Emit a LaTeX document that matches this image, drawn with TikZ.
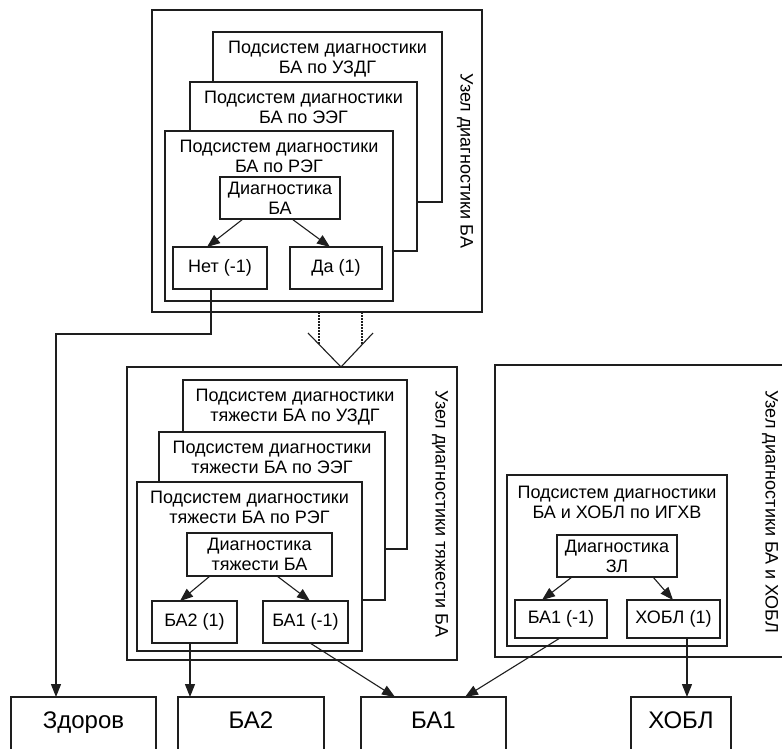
\documentclass[tikz,border=0pt]{standalone}
\usepackage{fontspec}
\setmainfont{Liberation Sans}
\usetikzlibrary{arrows.meta}
\definecolor{linec}{RGB}{30,30,30}
\begin{document}
\begin{tikzpicture}[x=1pt,y=-1pt,
  box/.style={draw=linec, line width=1.1pt, fill=white, inner sep=0pt, outer sep=0pt},
  txt/.style={font=\fontsize{18}{20}\selectfont, align=center, inner sep=0pt},
  big/.style={font=\fontsize{24}{28}\selectfont, inner sep=0pt},
  arr/.style={draw=linec, line width=1.1pt, -{Triangle[length=13pt,width=10pt]}},
  conn/.style={draw=linec, line width=1.1pt},
  dsh/.style={draw=linec, line width=1.1pt, dash pattern=on 2pt off 1pt},
  vlab/.style={font=\fontsize{18}{20}\selectfont, rotate=-90, inner sep=0pt}]
\fill[white] (0,0) rectangle (782,748);
\clip (0,0) rectangle (782,748);

% ---------- upper node ----------
\node[box, minimum width=330, minimum height=302] (upOuter) at (317,161) {};
\node[box, minimum width=229, minimum height=170] (upC3) at (327.5,117) {};
\node[txt, anchor=north] (upC3t) at ([yshift=-9pt]upC3.north) {Подсистем диагностики\\БА по УЗДГ};
\node[box, minimum width=227, minimum height=169] (upC2) at (303.5,166.5) {};
\node[txt, anchor=north] (upC2t) at ([yshift=-9pt]upC2.north) {Подсистем диагностики\\БА по ЭЭГ};
\node[box, minimum width=228, minimum height=170] (upC1) at (279,216) {};
\node[txt, anchor=north] (upC1t) at ([yshift=-9pt]upC1.north) {Подсистем диагностики\\БА по РЭГ};
\node[box, txt, minimum width=120, minimum height=42] (upDiag) at (280,198) {Диагностика\\БА};
\node[box, txt, minimum width=94, minimum height=42] (upNo) at (220,268) {Нет (-1)};
\node[box, txt, minimum width=92, minimum height=42] (upYes) at (336,268) {Да (1)};
\node[vlab] (upLab) at (465,161) {Узел диагностики БА};
\draw[arr] ([xshift=-37pt]upDiag.south) -- ([xshift=-13pt]upNo.north);
\draw[arr] ([xshift=12pt]upDiag.south) -- ([xshift=-6pt]upYes.north);

% ---------- middle node ----------
\node[box, minimum width=330, minimum height=293] (midOuter) at (292,513.5) {};
\node[box, minimum width=224, minimum height=169] (midC3) at (295,464.5) {};
\node[txt, anchor=north] (midC3t) at ([yshift=-9pt]midC3.north) {Подсистем диагностики\\тяжести БА по УЗДГ};
\node[box, minimum width=226, minimum height=168] (midC2) at (272,516) {};
\node[txt, anchor=north] (midC2t) at ([yshift=-9pt]midC2.north) {Подсистем диагностики\\тяжести БА по ЭЭГ};
\node[box, minimum width=225, minimum height=169] (midC1) at (249.5,566.5) {};
\node[txt, anchor=north] (midC1t) at ([yshift=-9pt]midC1.north) {Подсистем диагностики\\тяжести БА по РЭГ};
\node[box, txt, minimum width=145, minimum height=43] (midDiag) at (259.5,554.5) {Диагностика\\тяжести БА};
\node[box, txt, minimum width=85, minimum height=42] (midBA2) at (194.5,622) {БА2 (1)};
\node[box, txt, minimum width=85, minimum height=42] (midBA1) at (305.5,622) {БА1 (-1)};
\node[vlab] (midLab) at (440,514) {Узел диагностики тяжести БА};
\draw[arr] ([xshift=-49.5pt]midDiag.south) -- ([xshift=-14.5pt]midBA2.north);
\draw[arr] ([xshift=17.5pt]midDiag.south) -- ([xshift=4.5pt]midBA1.north);

% ---------- right node ----------
\node[box, minimum width=330, minimum height=292, anchor=north west] (rOuter) at (495,365) {};
\node[box, minimum width=220, minimum height=171] (rInner) at (617,560.5) {};
\node[txt, anchor=north] (rInnerT) at ([yshift=-11pt]rInner.north) {Подсистем диагностики\\БА и ХОБЛ по ИГХВ};
\node[box, txt, minimum width=120, minimum height=42] (rDiag) at (617,556) {Диагностика\\ЗЛ};
\node[box, txt, minimum width=92, minimum height=38] (rBA1) at (561,619) {БА1 (-1)};
\node[box, txt, minimum width=93, minimum height=38] (rCOPD) at (673.5,619) {ХОБЛ (1)};
\node[vlab] (rLab) at (770,512) {Узел диагностики БА и ХОБЛ};
\draw[arr] ([xshift=-45pt]rDiag.south) -- ([xshift=-19pt]rBA1.north);
\draw[arr] ([xshift=36pt]rDiag.south) -- ([xshift=-0.5pt]rCOPD.north);

% ---------- transfer arrow ----------
\coordinate (apex) at ([xshift=49pt]midOuter.north);
\coordinate (vl) at (308,333);
\coordinate (vr) at (373,333);
\draw[dsh] ([xshift=2pt]upOuter.south) -- ++(0,32);
\draw[dsh] ([xshift=45pt]upOuter.south) -- ++(0,32);
\draw[conn] (vl) -- (apex) -- (vr);

% ---------- result boxes ----------
\node[box, minimum width=145, minimum height=63] (bHealthy) at (83.5,728.5) {};
\node[big, anchor=base] (tHealthy) at ([yshift=-31pt]bHealthy.north) {Здоров};
\node[box, minimum width=146, minimum height=63] (bBA2) at (251,728.5) {};
\node[big, anchor=base] (tBA2) at ([yshift=-31pt]bBA2.north) {БА2};
\node[box, minimum width=145, minimum height=63] (bBA1) at (433.5,728.5) {};
\node[big, anchor=base] (tBA1) at ([yshift=-31pt]bBA1.north) {БА1};
\node[box, minimum width=100, minimum height=63] (bCOPD) at (681,728.5) {};
\node[big, anchor=base] (tCOPD) at ([yshift=-31pt]bCOPD.north) {ХОБЛ};

% ---------- connectors to results ----------
\coordinate (hx) at (56,334);
\draw[arr] ([xshift=-9pt]upNo.south) |- (hx) -- (hx |- bHealthy.north);
\draw[arr] ([xshift=-4.5pt]midBA2.south) coordinate (s1) -- (s1 |- bBA2.north);
\draw[arr] ([xshift=4.5pt]midBA1.south) -- ([xshift=-38.5pt]bBA1.north);
\draw[arr] ([xshift=-1pt]rBA1.south) -- ([xshift=31.5pt]bBA1.north);
\draw[arr] ([xshift=13.5pt]rCOPD.south) coordinate (s2) -- (s2 |- bCOPD.north);
\end{tikzpicture}
\end{document}
